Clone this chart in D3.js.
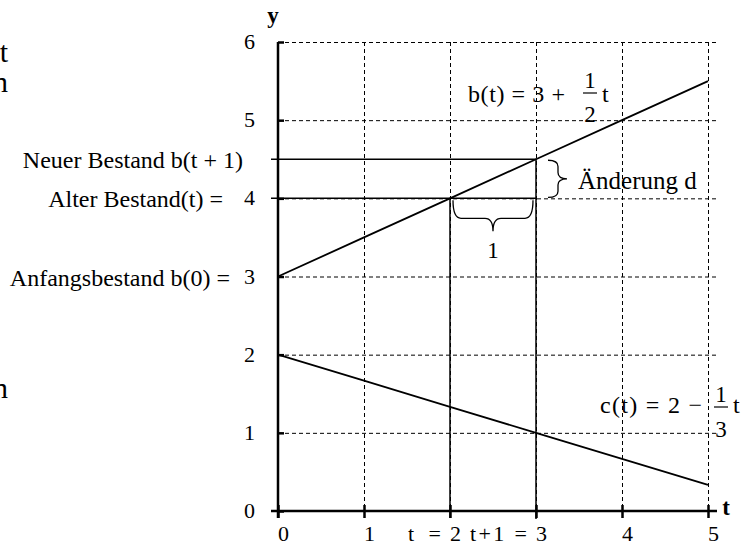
<!DOCTYPE html>
<html>
<head>
<meta charset="utf-8">
<script src="https://cdn.jsdelivr.net/npm/d3@7"></script>
<style>
  body { margin: 0; background: #fff; }
  svg text { font-family: "Liberation Serif", "Times New Roman", serif; fill: #000; }
</style>
</head>
<body>
<div id="chart"></div>
<script>
// data
const tTicks = [0, 1, 2, 3, 4, 5];
const yTicks = [0, 1, 2, 3, 4, 5, 6];
const tValues = [0, 1, 2, 3, 4, 5];
const bValues = [3, 3.5, 4, 4.5, 5, 5.5];          // b(t) = 3 + t/2
const cValues = [2, 1.667, 1.333, 1, 0.667, 0.333]; // c(t) = 2 - t/3
const tOld = 2;
const tNew = 3;
const bOld = 4;
const bNew = 4.5;
const leftLabels = [
    {text: 'Neuer Bestand b(t + 1)', y: 4.5, x: 243},
    {text: 'Alter Bestand(t) =', y: 4, x: 223},
    {text: 'Anfangsbestand b(0) =', y: 3, x: 230}
];
const xPrefix = [{t: 2, text: 't =', len: 33}, {t: 3, text: 't+1 =', len: 57}];

const width = 745;
const height = 546;

const x = d3.scaleLinear().domain([0, 5]).range([278, 708]);
const y = d3.scaleLinear().domain([0, 6]).range([511, 42]);

const svg = d3.select('#chart').append('svg')
    .attr('width', width)
    .attr('height', height);

// dashed grid
const grid = svg.append('g')
    .attr('stroke', '#000')
    .attr('stroke-width', 1)
    .attr('stroke-dasharray', '4,3');
grid.selectAll('line.h')
    .data(yTicks.filter(d => d > 0))
    .join('line')
        .attr('class', 'h')
        .attr('x1', x(0))
        .attr('x2', x(5) + 11)
        .attr('y1', d => y(d) + 0.5)
        .attr('y2', d => y(d) + 0.5);
grid.selectAll('line.v')
    .data(tTicks.filter(d => d > 0))
    .join('line')
        .attr('class', 'v')
        .attr('x1', d => x(d) + 0.5)
        .attr('x2', d => x(d) + 0.5)
        .attr('y1', y(6))
        .attr('y2', y(0));

// helper lines for old/new stock
const helper = svg.append('g')
    .attr('stroke', '#000')
    .attr('stroke-width', 1.5)
    .attr('fill', 'none');
helper.append('line')
    .attr('x1', x(0) - 7).attr('x2', x(tNew))
    .attr('y1', y(bNew)).attr('y2', y(bNew));
helper.append('line')
    .attr('x1', x(0) - 7).attr('x2', x(tNew))
    .attr('y1', y(bOld)).attr('y2', y(bOld));
helper.append('line')
    .attr('x1', x(tOld)).attr('x2', x(tOld))
    .attr('y1', y(bOld)).attr('y2', y(0) + 7);
helper.append('line')
    .attr('x1', x(tNew)).attr('x2', x(tNew))
    .attr('y1', y(bNew)).attr('y2', y(0) + 8);

// function lines
const line = d3.line()
    .x((d, i) => x(tValues[i]))
    .y(d => y(d));
svg.append('path')
    .attr('d', line(bValues))
    .attr('fill', 'none')
    .attr('stroke', '#000')
    .attr('stroke-width', 1.8);
svg.append('path')
    .attr('d', line(cValues))
    .attr('fill', 'none')
    .attr('stroke', '#000')
    .attr('stroke-width', 1.8);

// axes
const xAxis = g => g
    .attr('transform', `translate(0,${y(0)})`)
    .call(d3.axisBottom(x).tickValues(tTicks).tickSize(7).tickPadding(13).tickFormat(d3.format('d')))
    .call(g => g.select('.domain').remove())
    .call(g => g.selectAll('.tick line').attr('stroke-width', 2.5).attr('y1', -6))
    .call(g => g.selectAll('.tick text')
        .attr('font-size', '22px')
        .attr('font-family', '"Liberation Serif", serif')
        .attr('dy', '0.45em')
        .attr('dx', 5));
svg.append('g').call(xAxis);

const yAxis = g => g
    .attr('transform', `translate(${x(0)},0)`)
    .call(d3.axisLeft(y).tickValues(yTicks).tickSize(7).tickPadding(16).tickFormat(d3.format('d')))
    .call(g => g.select('.domain').remove())
    .call(g => g.selectAll('.tick line').attr('stroke-width', 2.5).attr('x2', 6))
    .call(g => g.selectAll('.tick text')
        .attr('font-size', '22px')
        .attr('font-family', '"Liberation Serif", serif')
        .attr('dy', '0.3em'));
svg.append('g').call(yAxis);

// axis lines
svg.append('line')
    .attr('x1', x(0)).attr('x2', x(0))
    .attr('y1', y(6)).attr('y2', y(0) + 7)
    .attr('stroke', '#000').attr('stroke-width', 2.5);
svg.append('line')
    .attr('x1', x(0) - 7).attr('x2', x(5) + 9)
    .attr('y1', y(0)).attr('y2', y(0))
    .attr('stroke', '#000').attr('stroke-width', 2.5);

// axis titles
svg.append('text')
    .attr('x', x(0) - 5).attr('y', 23)
    .attr('text-anchor', 'middle')
    .attr('font-size', '23px').attr('font-weight', 'bold')
    .text('y');
svg.append('text')
    .attr('x', x(5) + 18).attr('y', y(0) + 4)
    .attr('text-anchor', 'middle')
    .attr('font-size', '23px').attr('font-weight', 'bold')
    .text('t');

// prefixes at x ticks
svg.selectAll('text.prefix')
    .data(xPrefix)
    .join('text')
        .attr('class', 'prefix')
        .attr('x', d => x(d.t) - 9 - d.len)
        .attr('y', y(0) + 30)
        .attr('textLength', d => d.len)
        .attr('lengthAdjust', 'spacing')
        .attr('font-size', '22px')
        .text(d => d.text);

// left labels
svg.selectAll('text.left')
    .data(leftLabels)
    .join('text')
        .attr('class', 'left')
        .attr('x', d => d.x)
        .attr('y', d => y(d.y) + 9)
        .attr('text-anchor', 'end')
        .attr('font-size', '24px')
        .text(d => d.text);

// cut-off glyphs at left edge
svg.selectAll('text.cut')
    .data([{t: 't', y: 62}, {t: 'n', y: 92}, {t: 'n', y: 398}])
    .join('text')
        .attr('class', 'cut')
        .attr('x', 8)
        .attr('y', d => d.y)
        .attr('text-anchor', 'end')
        .attr('font-size', '30px')
        .text(d => d.t);

// braces
function brace(x1, y1, x2, y2, h, depth) {
    // brace from (x1,y1) to (x2,y2), bulging to the right of direction
    const dx = x2 - x1, dy = y2 - y1;
    const len = Math.sqrt(dx * dx + dy * dy);
    const ux = dx / len, uy = dy / len;
    const nx = -uy, ny = ux;
    const r = Math.min(8, len / 6);
    const p = (s, n) => [x1 + ux * s + nx * n, y1 + uy * s + ny * n];
    const m = len / 2;
    const path = d3.path();
    path.moveTo(...p(0, 0));
    path.quadraticCurveTo(...p(0, h), ...p(r, h));
    path.lineTo(...p(m - r, h));
    path.quadraticCurveTo(...p(m, h), ...p(m, depth));
    path.quadraticCurveTo(...p(m, h), ...p(m + r, h));
    path.lineTo(...p(len - r, h));
    path.quadraticCurveTo(...p(len, h), ...p(len, 0));
    return path.toString();
}
svg.append('path')
    .attr('d', brace(x(tNew) + 12, y(bOld) - 1, x(tNew) + 12, y(bNew) + 1, 10, 19))
    .attr('fill', 'none').attr('stroke', '#000').attr('stroke-width', 1.3);
svg.append('path')
    .attr('d', brace(x(tOld) + 3, y(bOld) + 2, x(tNew) - 3, y(bOld) + 2, 18, 31))
    .attr('fill', 'none').attr('stroke', '#000').attr('stroke-width', 1.3);

svg.append('text')
    .attr('x', x(tNew) + 42).attr('y', (y(bOld) + y(bNew)) / 2 + 10)
    .attr('font-size', '25px')
    .text('Änderung d');
svg.append('text')
    .attr('x', (x(tOld) + x(tNew)) / 2).attr('y', y(bOld) + 60)
    .attr('text-anchor', 'middle')
    .attr('font-size', '23px')
    .text('1');

// formulas
function formula(xs, yb, lead, num, den, f) {
    const g = svg.append('g');
    g.append('text')
        .attr('x', xs).attr('y', yb)
        .attr('font-size', '24px')
        .attr('textLength', f.len)
        .attr('lengthAdjust', 'spacing')
        .text(lead);
    const fx = xs + f.off;
    g.append('text').attr('x', fx).attr('y', yb + f.num)
        .attr('text-anchor', 'middle').attr('font-size', '23px').text(num);
    g.append('line')
        .attr('x1', fx - 7).attr('x2', fx + 7)
        .attr('y1', yb + f.bar).attr('y2', yb + f.bar)
        .attr('stroke', '#000').attr('stroke-width', 1.2);
    g.append('text').attr('x', fx).attr('y', yb + f.den)
        .attr('text-anchor', 'middle').attr('font-size', '23px').text(den);
    g.append('text').attr('x', fx + 12).attr('y', yb)
        .attr('font-size', '24px').text('t');
}
formula(468, 102, 'b(t) = 3 +', '1', '2', {len: 97, off: 122, num: -14, bar: -9, den: 20});
formula(600, 413, 'c(t) = 2 \u2212', '1', '3', {len: 102, off: 121, num: -11, bar: -6, den: 24});
</script>
</body>
</html>
